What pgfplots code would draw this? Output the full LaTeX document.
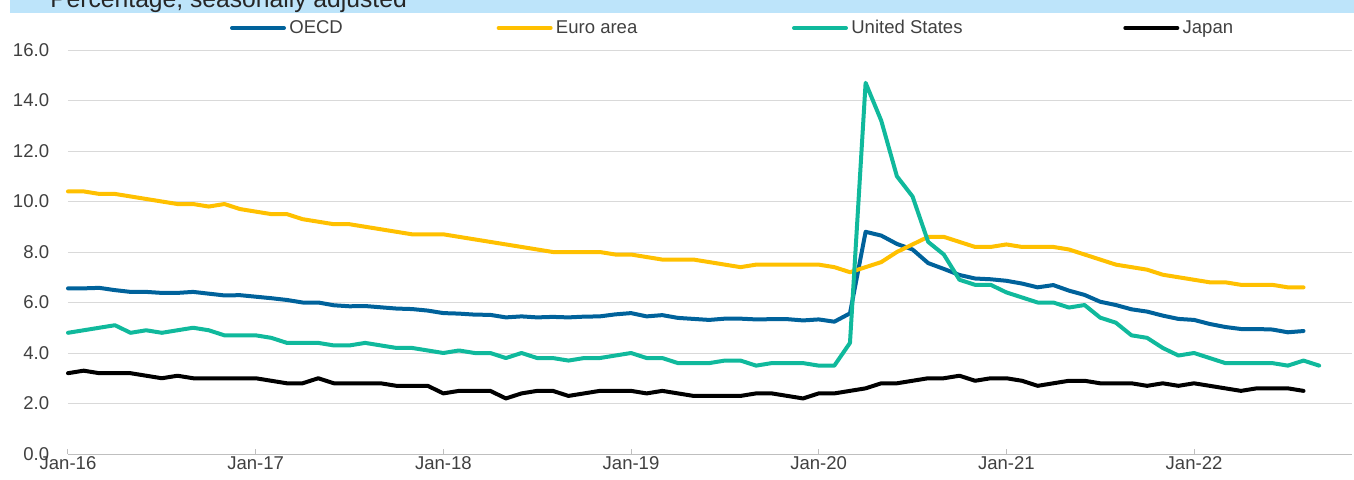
\documentclass[border=0pt]{standalone}
\usepackage{fontspec}
\setmainfont{Liberation Sans}
\usepackage{pgfplots}
\pgfplotsset{compat=1.18}
\usepackage{pgfplotstable}

\definecolor{oecd}{RGB}{0,98,155}
\definecolor{euro}{RGB}{255,192,0}
\definecolor{usa}{RGB}{16,185,156}
\definecolor{bannerc}{RGB}{189,228,250}
\definecolor{gridc}{RGB}{217,217,217}
\definecolor{axisc}{RGB}{191,191,191}
\definecolor{txt}{RGB}{64,64,64}

\pgfplotstableread{
m oecd euro us jp
0 6.56 10.4 4.8 3.2
1 6.56 10.4 4.9 3.3
2 6.58 10.3 5.0 3.2
3 6.49 10.3 5.1 3.2
4 6.42 10.2 4.8 3.2
5 6.42 10.1 4.9 3.1
6 6.38 10.0 4.8 3.0
7 6.38 9.9 4.9 3.1
8 6.42 9.9 5.0 3.0
9 6.35 9.8 4.9 3.0
10 6.28 9.9 4.7 3.0
11 6.29 9.7 4.7 3.0
12 6.23 9.6 4.7 3.0
13 6.17 9.5 4.6 2.9
14 6.10 9.5 4.4 2.8
15 6.00 9.3 4.4 2.8
16 6.00 9.2 4.4 3.0
17 5.89 9.1 4.3 2.8
18 5.85 9.1 4.3 2.8
19 5.86 9.0 4.4 2.8
20 5.81 8.9 4.3 2.8
21 5.76 8.8 4.2 2.7
22 5.74 8.7 4.2 2.7
23 5.68 8.7 4.1 2.7
24 5.58 8.7 4.0 2.4
25 5.56 8.6 4.1 2.5
26 5.52 8.5 4.0 2.5
27 5.51 8.4 4.0 2.5
28 5.41 8.3 3.8 2.2
29 5.45 8.2 4.0 2.4
30 5.41 8.1 3.8 2.5
31 5.43 8.0 3.8 2.5
32 5.41 8.0 3.7 2.3
33 5.44 8.0 3.8 2.4
34 5.45 8.0 3.8 2.5
35 5.53 7.9 3.9 2.5
36 5.58 7.9 4.0 2.5
37 5.45 7.8 3.8 2.4
38 5.50 7.7 3.8 2.5
39 5.39 7.7 3.6 2.4
40 5.35 7.7 3.6 2.3
41 5.31 7.6 3.6 2.3
42 5.36 7.5 3.7 2.3
43 5.36 7.4 3.7 2.3
44 5.33 7.5 3.5 2.4
45 5.34 7.5 3.6 2.4
46 5.34 7.5 3.6 2.3
47 5.29 7.5 3.6 2.2
48 5.33 7.5 3.5 2.4
49 5.24 7.4 3.5 2.4
50 5.57 7.2 4.4 2.5
51 8.80 7.4 14.7 2.6
52 8.65 7.6 13.2 2.8
53 8.32 8.0 11.0 2.8
54 8.10 8.3 10.2 2.9
55 7.56 8.6 8.4 3.0
56 7.33 8.6 7.9 3.0
57 7.09 8.4 6.9 3.1
58 6.95 8.2 6.7 2.9
59 6.92 8.2 6.7 3.0
60 6.86 8.3 6.4 3.0
61 6.75 8.2 6.2 2.9
62 6.60 8.2 6.0 2.7
63 6.69 8.2 6.0 2.8
64 6.47 8.1 5.8 2.9
65 6.30 7.9 5.9 2.9
66 6.03 7.7 5.4 2.8
67 5.90 7.5 5.2 2.8
68 5.73 7.4 4.7 2.8
69 5.64 7.3 4.6 2.7
70 5.48 7.1 4.2 2.8
71 5.35 7.0 3.9 2.7
72 5.31 6.9 4.0 2.8
73 5.15 6.8 3.8 2.7
74 5.03 6.8 3.6 2.6
75 4.95 6.7 3.6 2.5
76 4.95 6.7 3.6 2.6
77 4.93 6.7 3.6 2.6
78 4.82 6.6 3.5 2.6
79 4.87 6.6 3.7 2.5
80 nan nan 3.5 nan
}\datatable

\begin{document}
\begin{tikzpicture}
\useasboundingbox (-51pt,-18.75pt) rectangle (964.5pt,340.5pt);
\fill[bannerc] (-43.5pt,345pt) rectangle (964.5pt,330.75pt);
\node[anchor=base west, inner sep=0pt, text=black!85,
      font=\fontsize{18.5}{20}\selectfont] at (-13.5pt,334.9pt) {Percentage, seasonally adjusted};
\begin{axis}[
  at={(0pt,0pt)}, anchor=south west,
  scale only axis, width=963pt, height=303pt,
  xmin=0, xmax=82.1, ymin=0, ymax=16,
  separate axis lines,
  axis x line*=bottom, axis y line*=left,
  x axis line style={-, draw=axisc, line width=0.75pt},
  y axis line style={draw=none},
  xtick={0,12,24,36,48,60,72},
  xticklabels={Jan-16,Jan-17,Jan-18,Jan-19,Jan-20,Jan-21,Jan-22},
  ytick={0,2,4,6,8,10,12,14,16},
  tick align=inside,
  major tick length=3.5pt,
  xtick style={draw=axisc, line width=0.75pt},
  ytick style={draw=none},
  ymajorgrids,
  grid style={gridc, line width=0.75pt},
  every tick label/.append style={font=\fontsize{13.9}{16}\selectfont, text=txt},
  yticklabel style={/pgf/number format/fixed, /pgf/number format/fixed zerofill,
     /pgf/number format/precision=1, /pgf/number format/assume math mode=true,
     anchor=east, inner sep=0pt, xshift=-14pt},
  xticklabel style={anchor=north, inner sep=0pt, yshift=-2pt},
  legend columns=4,
  legend style={at={(121.5pt,319.5pt)}, anchor=west, draw=none, fill=none,
     inner sep=0pt, outer sep=0pt,
     font=\fontsize{13.9}{16}\selectfont, text=txt,
     nodes={inner sep=0pt},
     /tikz/every odd column/.append style={column sep=2.5pt},
     /tikz/every even column/.append style={column sep=0pt}},
  legend image code/.code={\draw[#1, line cap=round, line width=3pt] (0pt,0pt) -- (39pt,0pt);},
  every axis plot/.append style={line width=3pt, line join=round, line cap=round},
  clip=false,
]
\addplot[oecd, no marks] table[x=m, y=oecd] {\datatable};
\addlegendentry{\makebox[155.5pt][l]{OECD}}
\addplot[euro, no marks] table[x=m, y=euro] {\datatable};
\addlegendentry{\makebox[177pt][l]{Euro area}}
\addplot[usa, no marks] table[x=m, y=us] {\datatable};
\addlegendentry{\makebox[204pt][l]{United States}}
\addplot[black, no marks] table[x=m, y=jp] {\datatable};
\addlegendentry{Japan}
\end{axis}
\end{tikzpicture}
\end{document}
